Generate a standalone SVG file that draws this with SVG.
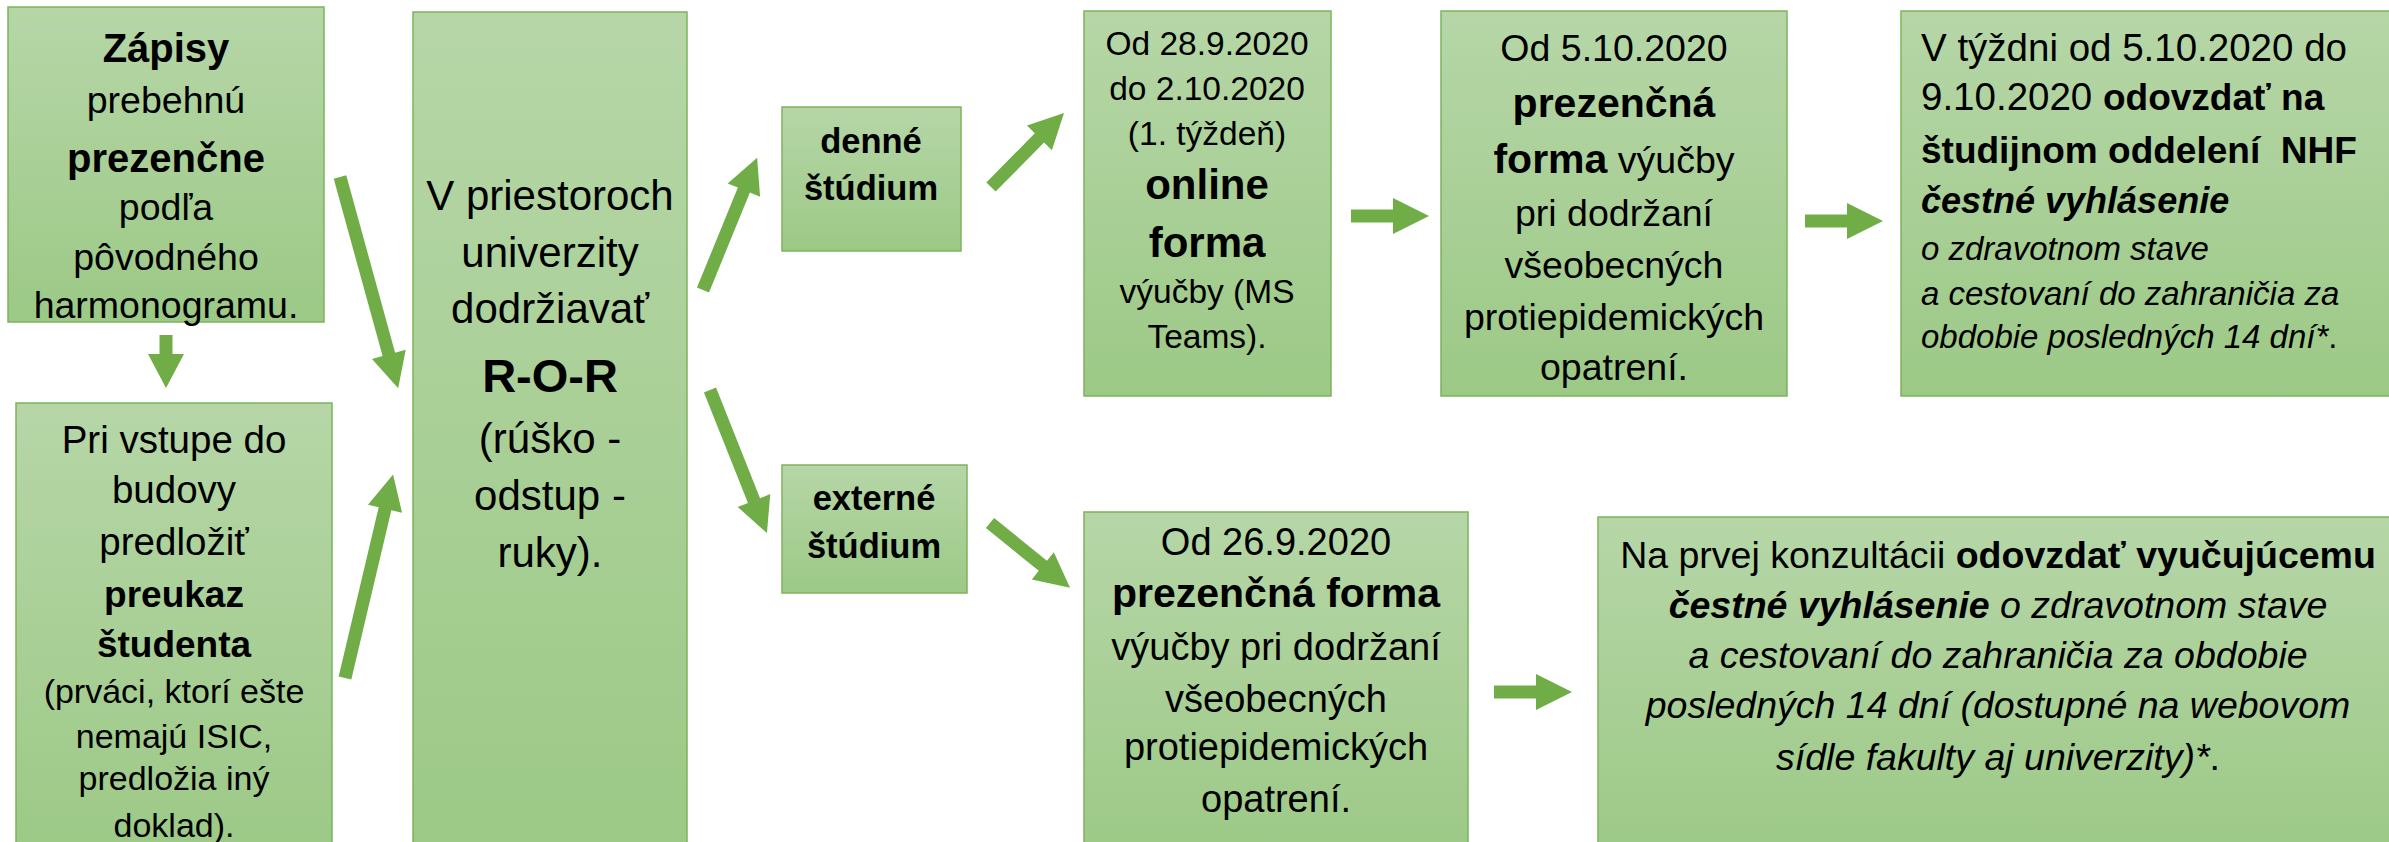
<svg xmlns="http://www.w3.org/2000/svg" width="2389" height="842" viewBox="0 0 2389 842">
<defs>
<linearGradient id="g" x1="0" y1="0" x2="0" y2="1">
<stop offset="0" stop-color="#b6d6a7"/>
<stop offset="1" stop-color="#9cc986"/>
</linearGradient>
<style>
.box{fill:url(#g);stroke:#7db35c;stroke-width:1.5}
.arr{fill:#70ad47}
text{font-family:"Liberation Sans",Arial,sans-serif;fill:#000}
.c{text-anchor:middle}
.b{font-weight:bold}
.i{font-style:italic}
</style>
</defs>
<rect width="2389" height="842" fill="#fff"/>

<g id="connectors">
<polygon class="arr" transform="translate(166,335) rotate(90)" points="0,-6.5 19,-6.5 19,-18 53,0 19,18 19,6.5 0,6.5"/>
<polygon class="arr" transform="translate(340,177) rotate(74.6)" points="0,-6.5 184,-6.5 184,-17.5 219,0 184,17.5 184,6.5 0,6.5"/>
<polygon class="arr" transform="translate(345,678) rotate(-76.7)" points="0,-6.5 174,-6.5 174,-17.5 209,0 174,17.5 174,6.5 0,6.5"/>
<polygon class="arr" transform="translate(703,290) rotate(-67.75)" points="0,-6.5 108,-6.5 108,-17.5 143,0 108,17.5 108,6.5 0,6.5"/>
<polygon class="arr" transform="translate(710,390) rotate(68.3)" points="0,-6.5 119,-6.5 119,-17.5 154,0 119,17.5 119,6.5 0,6.5"/>
<polygon class="arr" transform="translate(991,187) rotate(-45.4)" points="0,-6.5 69,-6.5 69,-17.5 104,0 69,17.5 69,6.5 0,6.5"/>
<polygon class="arr" transform="translate(990,523) rotate(39)" points="0,-6.5 68,-6.5 68,-17.5 103,0 68,17.5 68,6.5 0,6.5"/>
<polygon class="arr" transform="translate(1351,216)" points="0,-6.5 42,-6.5 42,-18 78,0 42,18 42,6.5 0,6.5"/>
<polygon class="arr" transform="translate(1805,221)" points="0,-6.5 42,-6.5 42,-18 78,0 42,18 42,6.5 0,6.5"/>
<polygon class="arr" transform="translate(1494,692)" points="0,-6.5 42,-6.5 42,-18 78,0 42,18 42,6.5 0,6.5"/>
</g>

<g id="zapisy">
<rect class="box" x="8" y="7" width="316" height="315"/>
<text class="c b" x="166" y="62" font-size="40">Zápisy</text>
<text class="c" x="166" y="113" font-size="37.5">prebehnú</text>
<text class="c b" x="166" y="172" font-size="40">prezenčne</text>
<text class="c" x="166" y="220" font-size="37.5">podľa</text>
<text class="c" x="166" y="270" font-size="37.5">pôvodného</text>
<text class="c" x="166" y="318" font-size="37.5">harmonogramu.</text>
</g>

<g id="preukaz">
<rect class="box" x="16" y="403" width="316" height="460"/>
<text class="c" x="174" y="453" font-size="38.5">Pri vstupe do</text>
<text class="c" x="174" y="503" font-size="38.5">budovy</text>
<text class="c" x="174" y="555" font-size="38.5">predložiť</text>
<text class="c b" x="174" y="607" font-size="37">preukaz</text>
<text class="c b" x="174" y="657" font-size="37">študenta</text>
<text class="c" x="174" y="703" font-size="34">(prváci, ktorí ešte</text>
<text class="c" x="174" y="748" font-size="34">nemajú ISIC,</text>
<text class="c" x="174" y="790" font-size="34">predložia iný</text>
<text class="c" x="174" y="837" font-size="34">doklad).</text>
</g>

<g id="ror">
<rect class="box" x="413" y="12" width="274" height="850"/>
<text class="c" x="550" y="210" font-size="42">V priestoroch</text>
<text class="c" x="550" y="267" font-size="42">univerzity</text>
<text class="c" x="550" y="323" font-size="42">dodržiavať</text>
<text class="c b" x="550" y="392" font-size="47">R-O-R</text>
<text class="c" x="550" y="453" font-size="42">(rúško -</text>
<text class="c" x="550" y="510" font-size="42">odstup -</text>
<text class="c" x="550" y="567" font-size="42">ruky).</text>
</g>

<g id="denne">
<rect class="box" x="782" y="107" width="179" height="144"/>
<text class="c b" x="871" y="153" font-size="34.5">denné</text>
<text class="c b" x="871" y="200" font-size="34.5">štúdium</text>
</g>

<g id="externe">
<rect class="box" x="782" y="465" width="185" height="128"/>
<text class="c b" x="874" y="510" font-size="34.5">externé</text>
<text class="c b" x="874" y="558" font-size="34.5">štúdium</text>
</g>

<g id="online">
<rect class="box" x="1084" y="11" width="247" height="385"/>
<text class="c" x="1207" y="55" font-size="33.5">Od 28.9.2020</text>
<text class="c" x="1207" y="100" font-size="33.5">do 2.10.2020</text>
<text class="c" x="1207" y="145" font-size="33.5">(1. týždeň)</text>
<text class="c b" x="1207" y="199" font-size="42">online</text>
<text class="c b" x="1207" y="257" font-size="42">forma</text>
<text class="c" x="1207" y="303" font-size="33.5">výučby (MS</text>
<text class="c" x="1207" y="348" font-size="33.5">Teams).</text>
</g>

<g id="prezencna1">
<rect class="box" x="1441" y="11" width="346" height="385"/>
<text class="c" x="1614" y="61" font-size="37.5">Od 5.10.2020</text>
<text class="c b" x="1614" y="117" font-size="41">prezenčná</text>
<text class="c" x="1614" y="173" font-size="37.5"><tspan class="b" font-size="41">forma</tspan> výučby</text>
<text class="c" x="1614" y="226" font-size="37.5">pri dodržaní</text>
<text class="c" x="1614" y="278" font-size="37.5">všeobecných</text>
<text class="c" x="1614" y="330" font-size="37.5">protiepidemických</text>
<text class="c" x="1614" y="380" font-size="37.5">opatrení.</text>
</g>

<g id="vyhlasenie1">
<rect class="box" x="1901" y="11" width="510" height="385"/>
<text x="1921" y="61" font-size="38.5">V týždni od 5.10.2020 do</text>
<text x="1921" y="110" font-size="38.5">9.10.2020 <tspan class="b" font-size="37">odovzdať na</tspan></text>
<text class="b" x="1921" y="163" font-size="37">študijnom oddelení&#160; NHF</text>
<text class="b i" x="1921" y="213" font-size="36">čestné vyhlásenie</text>
<text class="i" x="1921" y="260" font-size="33">o zdravotnom stave</text>
<text class="i" x="1921" y="305" font-size="33">a cestovaní do zahraničia za</text>
<text class="i" x="1921" y="348" font-size="33">obdobie posledných 14 dní*<tspan font-style="normal">.</tspan></text>
</g>

<g id="prezencna2">
<rect class="box" x="1084" y="512" width="384" height="350"/>
<text class="c" x="1276" y="555" font-size="38">Od 26.9.2020</text>
<text class="c b" x="1276" y="607" font-size="41">prezenčná forma</text>
<text class="c" x="1276" y="660" font-size="38">výučby pri dodržaní</text>
<text class="c" x="1276" y="712" font-size="38">všeobecných</text>
<text class="c" x="1276" y="760" font-size="38">protiepidemických</text>
<text class="c" x="1276" y="812" font-size="38">opatrení.</text>
</g>

<g id="vyhlasenie2">
<rect class="box" x="1598" y="517" width="810" height="345"/>
<text class="c" x="1998" y="568" font-size="37.5">Na prvej konzultácii <tspan class="b">odovzdať vyučujúcemu</tspan></text>
<text class="c i" x="1998" y="618" font-size="37.5"><tspan class="b">čestné vyhlásenie</tspan> o zdravotnom stave</text>
<text class="c i" x="1998" y="668" font-size="37.5">a cestovaní do zahraničia za obdobie</text>
<text class="c i" x="1998" y="718" font-size="37.5">posledných 14 dní (dostupné na webovom</text>
<text class="c i" x="1998" y="770" font-size="37.5">sídle fakulty aj univerzity)*<tspan font-style="normal">.</tspan></text>
</g>
</svg>
